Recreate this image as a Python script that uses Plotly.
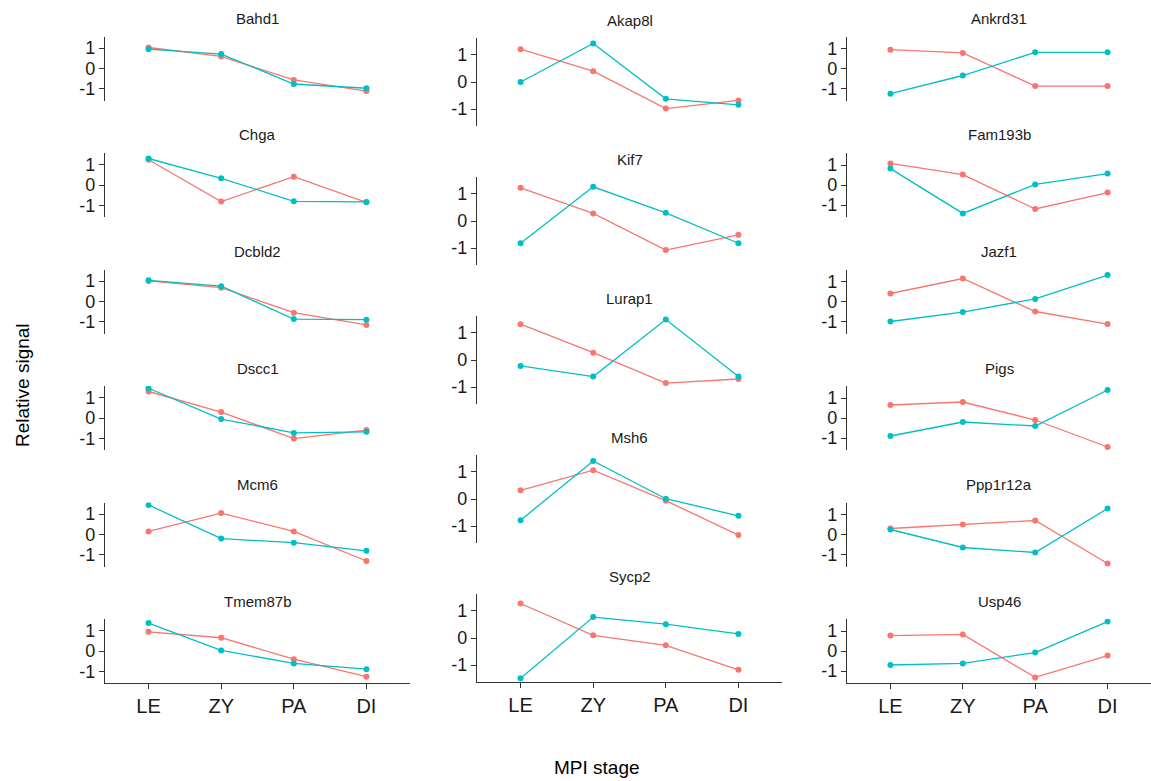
import plotly.graph_objects as go

# MPI stages on the x axis
stages = ["LE", "ZY", "PA", "DI"]

# Left column genes
genes_left = ["Bahd1", "Chga", "Dcbld2", "Dscc1", "Mcm6", "Tmem87b"]
red_left = [
    [1.03, 0.59, -0.56, -1.11],
    [1.24, -0.81, 0.41, -0.85],
    [1.01, 0.68, -0.55, -1.15],
    [1.30, 0.29, -1.01, -0.59],
    [0.15, 1.05, 0.15, -1.30],
    [0.94, 0.65, -0.40, -1.26],
]
teal_left = [
    [0.95, 0.71, -0.76, -0.97],
    [1.30, 0.33, -0.80, -0.83],
    [1.04, 0.75, -0.86, -0.89],
    [1.46, -0.05, -0.73, -0.68],
    [1.45, -0.20, -0.40, -0.80],
    [1.37, 0.03, -0.61, -0.89],
]

# Middle column genes
genes_mid = ["Akap8l", "Kif7", "Lurap1", "Msh6", "Sycp2"]
red_mid = [
    [1.21, 0.40, -0.98, -0.68],
    [1.22, 0.28, -1.07, -0.51],
    [1.32, 0.27, -0.85, -0.70],
    [0.32, 1.06, -0.06, -1.33],
    [1.27, 0.10, -0.27, -1.17],
]
teal_mid = [
    [0.00, 1.42, -0.62, -0.84],
    [-0.82, 1.26, 0.30, -0.82],
    [-0.22, -0.61, 1.49, -0.61],
    [-0.78, 1.40, 0.01, -0.62],
    [-1.48, 0.77, 0.51, 0.15],
]

# Right column genes
genes_right = ["Ankrd31", "Fam193b", "Jazf1", "Pigs", "Ppp1r12a", "Usp46"]
red_right = [
    [0.94, 0.78, -0.88, -0.88],
    [1.08, 0.52, -1.20, -0.38],
    [0.40, 1.15, -0.50, -1.13],
    [0.65, 0.80, -0.10, -1.45],
    [0.30, 0.50, 0.70, -1.45],
    [0.77, 0.83, -1.32, -0.23],
]
teal_right = [
    [-1.26, -0.35, 0.81, 0.81],
    [0.82, -1.42, 0.03, 0.57],
    [-1.00, -0.53, 0.13, 1.32],
    [-0.90, -0.20, -0.40, 1.40],
    [0.25, -0.65, -0.90, 1.30],
    [-0.70, -0.62, -0.08, 1.47],
]

yticks = [-1, 0, 1]

RED = "#F8766D"
TEAL = "#00BFC4"
FONT = "Liberation Sans"
W, H = 1151, 781
AXIS_COLOR = "#333333"

# Panel geometry per column (pixels): x extent, first top, row pitch, panel height, y range
columns = [
    dict(genes=genes_left, red=red_left, teal=teal_left,
         x0=105, x1=410, top=36.5, pitch=116.5, h=64, yr=1.57),
    dict(genes=genes_mid, red=red_mid, teal=teal_mid,
         x0=477, x1=782, top=38, pitch=139, h=88, yr=1.62),
    dict(genes=genes_right, red=red_right, teal=teal_right,
         x0=847, x1=1151, top=36.5, pitch=116.5, h=64, yr=1.60),
]

fig = go.Figure()
annotations = []
idx = 0
for col in columns:
    n = len(col["genes"])
    for r, gene in enumerate(col["genes"]):
        idx += 1
        sfx = "" if idx == 1 else str(idx)
        top = col["top"] + r * col["pitch"]
        bot = top + col["h"]
        last = r == n - 1
        xd = [col["x0"] / W, col["x1"] / W]
        yd = [1 - bot / H, 1 - top / H]
        for vals, color, name in ((col["red"][r], RED, "Group 1"),
                                  (col["teal"][r], TEAL, "Group 2")):
            fig.add_trace(go.Scatter(
                x=stages, y=vals, mode="lines+markers", name=name,
                line=dict(color=color, width=1.3),
                marker=dict(color=color, size=6),
                xaxis="x" + sfx, yaxis="y" + sfx, showlegend=False,
            ))
        fig.layout["xaxis" + sfx] = dict(
            domain=xd, anchor="y" + sfx, type="category",
            categoryorder="array", categoryarray=stages,
            range=[-0.6, 3.6], showgrid=False, zeroline=False,
            showline=last, linecolor=AXIS_COLOR, linewidth=1.1,
            ticks="outside" if last else "", ticklen=5,
            tickcolor=AXIS_COLOR, showticklabels=last,
            tickfont=dict(family=FONT, size=20, color="#1a1a1a"),
        )
        fig.layout["yaxis" + sfx] = dict(
            domain=yd, anchor="x" + sfx, range=[-col["yr"], col["yr"]],
            showgrid=False, zeroline=False, showline=True,
            linecolor=AXIS_COLOR, linewidth=1.1, ticks="outside",
            ticklen=5, tickcolor=AXIS_COLOR, tickvals=yticks,
            ticktext=[str(v) for v in yticks],
            tickfont=dict(family=FONT, size=18, color="#1a1a1a"),
        )
        annotations.append(dict(
            text=gene, x=(col["x0"] + col["x1"]) / 2 / W, y=1 - (top - 18) / H,
            xref="paper", yref="paper", showarrow=False,
            xanchor="center", yanchor="middle",
            font=dict(family=FONT, size=15, color="#1a1a1a"),
        ))

annotations.append(dict(
    text="Relative signal", x=22 / W, y=1 - 385 / H, xref="paper", yref="paper",
    showarrow=False, textangle=-90, xanchor="center", yanchor="middle",
    font=dict(family=FONT, size=19, color="#000000"),
))
annotations.append(dict(
    text="MPI stage", x=597 / W, y=1 - 767 / H, xref="paper", yref="paper",
    showarrow=False, xanchor="center", yanchor="middle",
    font=dict(family=FONT, size=19, color="#000000"),
))

fig.update_layout(
    width=W, height=H, margin=dict(l=0, r=0, t=0, b=0),
    paper_bgcolor="white", plot_bgcolor="white",
    annotations=annotations, showlegend=False,
)

fig.write_html("out.html")
